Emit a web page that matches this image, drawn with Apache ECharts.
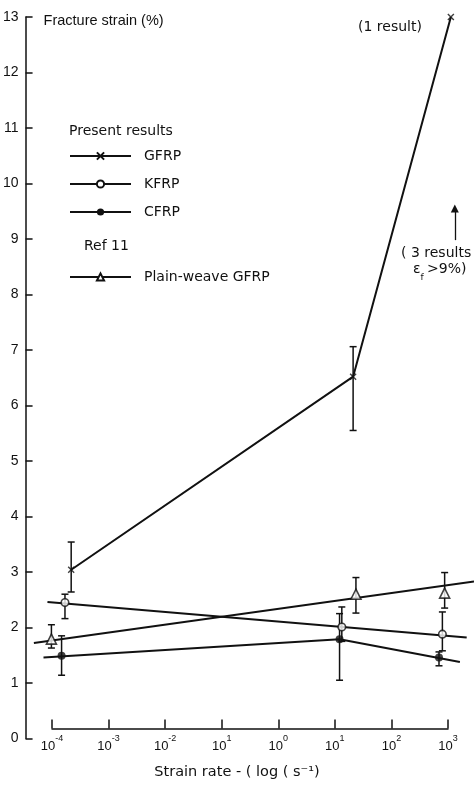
<!DOCTYPE html>
<html>
<head>
<meta charset="utf-8">
<script src="https://cdn.jsdelivr.net/npm/echarts@6/dist/echarts.min.js"></script>
<style>
html,body{margin:0;padding:0;background:#fff;}
#chart{width:474px;height:785px;}
</style>
</head>
<body>
<div id="chart"></div>
<script>
// ---- data (x = log10 of strain rate, y = fracture strain %) ----
const xTickValues = [-4, -3, -2, -1, 0, 1, 2, 3];
const xTickExponents = ['-4', '-3', '-2', '1', '0', '1', '2', '3'];

const gfrpX = [-3.67, 1.32, 3.05];
const gfrpY = [3.04, 6.52, 13.0];
const gfrpLow = [2.64, 5.55, null];
const gfrpHigh = [3.54, 7.06, null];

const kfrpX = [-3.78, 1.12, 2.90];
const kfrpY = [2.45, 2.01, 1.88];
const kfrpLow = [2.16, 1.75, 1.58];
const kfrpHigh = [2.60, 2.37, 2.28];
const kfrpLineX = [-4.09, 3.33];
const kfrpLineY = [2.46, 1.82];

const cfrpX = [-3.84, 1.08, 2.84];
const cfrpY = [1.49, 1.79, 1.46];
const cfrpLow = [1.14, 1.05, 1.31];
const cfrpHigh = [1.85, 2.25, 1.56];
const cfrpLineX = [-4.16, 1.08, 3.21];
const cfrpLineY = [1.46, 1.79, 1.38];

const pwX = [-4.02, 1.37, 2.94];
const pwY = [1.79, 2.60, 2.62];
const pwLow = [1.63, 2.26, 2.35];
const pwHigh = [2.05, 2.90, 2.99];
const pwLineX = [-4.33, 3.46];
const pwLineY = [1.72, 2.83];

const arrowX = 3.12;
const arrowY = [8.98, 9.55];

// ---- helpers ----
const INK = '#111';
const FONT = '"Liberation Sans", Arial, sans-serif';
const TFONT = '"DejaVu Sans", "Liberation Sans", sans-serif';
const pairs = (xs, ys) => xs.map((x, i) => [x, ys[i]]);
const bars = (xs, lo, hi) => xs.map((x, i) => [x, lo[i], hi[i]]).filter(d => d[1] != null && d[2] != null);
const X_SYMBOL = 'path://M0,0L10,10M10,0L0,10';

function errorBarSeries(name, data) {
  return {
    name: name, type: 'custom', xAxisIndex: 0, yAxisIndex: 0, z: 3, silent: true,
    data: data,
    renderItem: function (params, api) {
      const x = api.value(0);
      const p1 = api.coord([x, api.value(2)]);
      const p2 = api.coord([x, api.value(1)]);
      const w = 3.5;
      const st = { stroke: INK, lineWidth: 1.5 };
      return {
        type: 'group', children: [
          { type: 'line', shape: { x1: p1[0], y1: p1[1], x2: p2[0], y2: p2[1] }, style: st },
          { type: 'line', shape: { x1: p1[0] - w, y1: p1[1], x2: p1[0] + w, y2: p1[1] }, style: st },
          { type: 'line', shape: { x1: p2[0] - w, y1: p2[1], x2: p2[0] + w, y2: p2[1] }, style: st }
        ]
      };
    }
  };
}

function lineSeries(name, data, symbol, itemStyle) {
  return {
    name: name, type: 'line', xAxisIndex: 0, yAxisIndex: 0, z: 2,
    data: data, symbol: symbol, showSymbol: false, symbolSize: 7,
    lineStyle: { color: INK, width: 2 },
    itemStyle: itemStyle, silent: true, clip: false
  };
}

function markerSeries(name, data, symbol, size, itemStyle) {
  return {
    name: name, type: 'scatter', xAxisIndex: 0, yAxisIndex: 0, z: 4,
    data: data, symbol: symbol, symbolSize: size, itemStyle: itemStyle, silent: true
  };
}

const chart = echarts.init(document.getElementById('chart'), null, { renderer: 'canvas' });

const series = [
  lineSeries('GFRP', pairs(gfrpX, gfrpY), X_SYMBOL, { color: 'rgba(0,0,0,0)', borderColor: INK, borderWidth: 1.4 }),
  lineSeries('KFRP', pairs(kfrpLineX, kfrpLineY), 'emptyCircle', { color: INK }),
  lineSeries('CFRP', pairs(cfrpLineX, cfrpLineY), 'circle', { color: INK }),
  lineSeries('Plain-weave GFRP', pairs(pwLineX, pwLineY), 'emptyTriangle', { color: INK }),
  errorBarSeries('GFRP err', bars(gfrpX, gfrpLow, gfrpHigh)),
  errorBarSeries('KFRP err', bars(kfrpX, kfrpLow, kfrpHigh)),
  errorBarSeries('CFRP err', bars(cfrpX, cfrpLow, cfrpHigh)),
  errorBarSeries('PW err', bars(pwX, pwLow, pwHigh)),
  markerSeries('GFRP pts', pairs(gfrpX, gfrpY), X_SYMBOL, 6, { color: 'rgba(0,0,0,0)', borderColor: INK, borderWidth: 1.4 }),
  markerSeries('KFRP pts', pairs(kfrpX, kfrpY), 'circle', 7.5, { color: '#fff', borderColor: INK, borderWidth: 1.6 }),
  markerSeries('CFRP pts', pairs(cfrpX, cfrpY), 'circle', 8, { color: INK }),
  markerSeries('PW pts', pairs(pwX, pwY), 'triangle', 10, { color: '#fff', borderColor: INK, borderWidth: 1.6 }),
  {
    name: 'arrow', type: 'line', xAxisIndex: 0, yAxisIndex: 0, data: [], silent: true,
    markLine: {
      silent: true, symbol: ['none', 'triangle'], symbolSize: 8, animation: false,
      lineStyle: { color: INK, width: 1.3, type: 'solid' },
      itemStyle: { color: INK },
      label: { show: false },
      data: [[{ coord: [arrowX, arrowY[0]] }, { coord: [arrowX, arrowY[1]] }]]
    }
  }
];

const option = {
  animation: false,
  backgroundColor: '#fff',
  textStyle: { fontFamily: FONT, color: INK },
  grid: [
    { left: 25, right: 0, top: 17, bottom: 46.5 },
    { left: 52, right: 26, top: 17, bottom: 45 }
  ],
  xAxis: [
    { type: 'value', gridIndex: 0, min: -4.4773, max: 3.4596, show: false },
    {
      type: 'value', gridIndex: 1, min: -4, max: 3, interval: 1,
      axisLine: { show: true, onZero: false, lineStyle: { color: INK, width: 1.5 } },
      axisTick: { show: true, inside: true, length: 9, lineStyle: { color: INK, width: 1.5 } },
      splitLine: { show: false },
      axisLabel: {
        margin: 6, color: INK, fontFamily: FONT,
        formatter: function (v) {
          const i = xTickValues.indexOf(Math.round(v));
          return '{b|10}{s|' + xTickExponents[i] + '}';
        },
        rich: {
          b: { fontSize: 13, fontFamily: FONT, color: INK, verticalAlign: 'bottom', lineHeight: 18 },
          s: { fontSize: 9, fontFamily: FONT, color: INK, verticalAlign: 'top', lineHeight: 18 }
        }
      },
      name: 'Strain rate - ( log ( s\u207B\u00B9)',
      nameLocation: 'middle', nameGap: 44, nameMoveOverlap: false,
      nameTextStyle: { fontSize: 14.5, fontFamily: TFONT, color: INK, verticalAlign: 'middle', padding: [0, 26, 0, 0] }
    }
  ],
  yAxis: [
    {
      type: 'value', gridIndex: 0, min: 0, max: 13, interval: 1,
      axisLine: { show: true, onZero: false, lineStyle: { color: INK, width: 1.5 } },
      axisTick: { show: true, inside: true, length: 7, lineStyle: { color: INK, width: 1.5 } },
      splitLine: { show: false },
      axisLabel: { margin: 7, fontSize: 14, color: INK, fontFamily: FONT },
      name: 'Fracture strain (%)', nameLocation: 'end', nameGap: -4,
      nameTextStyle: { fontSize: 14.5, color: INK, fontFamily: FONT, align: 'left', verticalAlign: 'middle', padding: [0, 0, 0, 18] }
    },
    { type: 'value', gridIndex: 1, min: 0, max: 13, show: false }
  ],
  legend: [
    {
      data: ['GFRP', 'KFRP', 'CFRP'], orient: 'vertical', left: 64, top: 144,
      itemWidth: 61, itemHeight: 9, itemGap: 14, selectedMode: false,
      textStyle: { fontSize: 14, color: INK, fontFamily: TFONT, padding: [0, 0, 0, 8] }
    },
    {
      data: ['Plain-weave GFRP'], orient: 'vertical', left: 64, top: 265,
      itemWidth: 61, itemHeight: 9, selectedMode: false,
      textStyle: { fontSize: 14, color: INK, fontFamily: TFONT, padding: [0, 0, 0, 8] }
    }
  ],
  graphic: [
    { type: 'text', left: 69, top: 124, style: { text: 'Present results', font: '14px ' + TFONT, fill: INK } },
    { type: 'text', left: 84, top: 239, style: { text: 'Ref 11', font: '14px ' + TFONT, fill: INK } },
    { type: 'text', left: 358, top: 20, style: { text: '(1 result)', font: '14px ' + TFONT, fill: INK } },
    { type: 'text', left: 401, top: 246, style: { text: '( 3 results', font: '14px ' + TFONT, fill: INK } },
    {
      type: 'text', left: 413, top: 262,
      style: {
        text: '{e|\u03B5}{f|f} {e|>9%)}',
        rich: {
          e: { fontSize: 14, fontFamily: TFONT, fill: INK, verticalAlign: 'top', lineHeight: 16 },
          f: { fontSize: 9, fontFamily: TFONT, fill: INK, verticalAlign: 'bottom', lineHeight: 20 }
        }
      }
    }
  ],
  series: series
};

chart.setOption(option);
</script>
</body>
</html>
